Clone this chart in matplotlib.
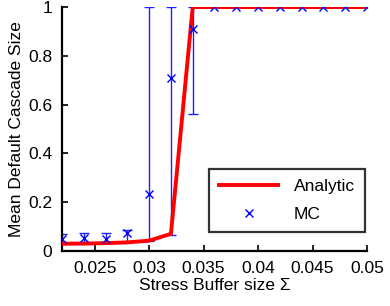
import numpy as np
import matplotlib
matplotlib.use("Agg")
import matplotlib.pyplot as plt

plt.rcParams['font.family'] = ['Liberation Sans', 'DejaVu Sans']

# --- data ---
sigma = [0.022, 0.024, 0.026, 0.028, 0.030, 0.032, 0.034, 0.036,
         0.038, 0.040, 0.042, 0.044, 0.046, 0.048, 0.050]
analytic = [0.030, 0.030, 0.032, 0.035, 0.042, 0.070, 1.0, 1.0,
            1.0, 1.0, 1.0, 1.0, 1.0, 1.0, 1.0]
mc_mean = [0.050, 0.055, 0.050, 0.075, 0.235, 0.710, 0.910, 1.0,
           1.0, 1.0, 1.0, 1.0, 1.0, 1.0, 1.0]
mc_low = [0.030, 0.035, 0.035, 0.035, 0.040, 0.065, 0.560, 1.0,
          1.0, 1.0, 1.0, 1.0, 1.0, 1.0, 1.0]
mc_high = [0.070, 0.075, 0.075, 0.085, 1.0, 1.0, 1.0, 1.0,
           1.0, 1.0, 1.0, 1.0, 1.0, 1.0, 1.0]

x_ticks = [0.025, 0.03, 0.035, 0.04, 0.045, 0.05]
x_labels = ["0.025", "0.03", "0.035", "0.04", "0.045", "0.05"]
y_ticks = [0, 0.2, 0.4, 0.6, 0.8, 1]
y_labels = ["0", "0.2", "0.4", "0.6", "0.8", "1"]

fig = plt.figure(figsize=(3.9, 3.06), dpi=100)
ax = fig.add_axes([0.159, 0.18, 0.782, 0.797])

mean = np.array(mc_mean)
yerr = [mean - np.array(mc_low), np.array(mc_high) - mean]
ax.errorbar(sigma, mc_mean, yerr=yerr, fmt='none', ecolor='#2020ff',
            elinewidth=1.0, capsize=3.5, capthick=1.0, zorder=2)
ax.plot(sigma, analytic, color='#ff0000', lw=2.8, label='Analytic', zorder=3)
ax.plot(sigma, mc_mean, 'x', color='#0000ff', ms=6, mew=1.0, label='MC', zorder=4)

ax.set_xlim(0.022, 0.05)
ax.set_ylim(0, 1)
ax.set_xticks(x_ticks)
ax.set_xticklabels(x_labels)
ax.set_yticks(y_ticks)
ax.set_yticklabels(y_labels)
ax.tick_params(direction='in', length=4, width=1.2, labelsize=12.5, pad=7)
ax.set_xlabel("Stress Buffer size Σ", fontsize=12.5, labelpad=2)
ax.set_ylabel("Mean Default Cascade Size", fontsize=12.5, labelpad=3)

for s in ['top', 'right']:
    ax.spines[s].set_visible(False)
for s in ['left', 'bottom']:
    ax.spines[s].set_linewidth(1.6)

leg = ax.legend(loc='lower right', bbox_to_anchor=(1.0, 0.07), fontsize=12.5,
                frameon=True, fancybox=False, borderpad=0.6, handlelength=3.4,
                labelspacing=0.7, borderaxespad=0.1, handletextpad=0.9)
leg.get_frame().set_edgecolor('black')
leg.get_frame().set_linewidth(1.6)

fig.savefig("out.png", dpi=100)
